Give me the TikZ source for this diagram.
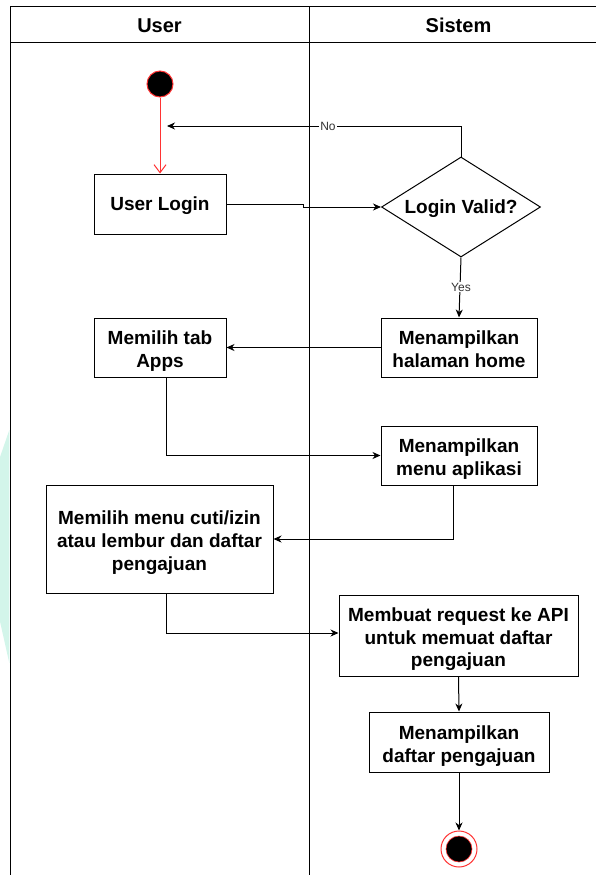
\documentclass[tikz,border=0pt]{standalone}
\usepackage{fontspec}
\setmainfont{Liberation Sans}
\usetikzlibrary{shapes.geometric,arrows.meta}

\definecolor{mint}{HTML}{D3F5EA}
\definecolor{startred}{HTML}{FF3333}

% struts that give every text block the same line boxes
\newcommand{\topstrut}{\rule{0pt}{22pt}}
\newcommand{\diastrut}{\rule{0pt}{18pt}}
\newcommand{\botstrut}{\rule[-4.8pt]{0pt}{4.8pt}}

\tikzset{
  lane/.style={line width=1pt, draw=black},
  lanetitle/.style={font=\fontsize{20}{24}\selectfont\bfseries, inner sep=0pt},
  actbox/.style={draw=black, line width=1pt, fill=white, align=center,
    inner sep=0pt, font=\fontsize{19}{22.8}\selectfont\bfseries},
  decide/.style={diamond, aspect=1.59, draw=black, line width=1pt, fill=white,
    inner sep=0pt, minimum width=159pt, minimum height=100pt,
    font=\fontsize{19}{22.8}\selectfont\bfseries},
  flow/.style={line width=1pt, draw=black,
    -{Stealth[length=8pt, width=7pt, inset=2.5pt]}},
  startflow/.style={line width=1pt, draw=startred,
    -{Straight Barb[length=8pt, width=12pt, line width=1pt]}},
  guard/.style={font=\fontsize{12}{14}\selectfont, text=black!80, fill=white,
    inner sep=1pt},
  initial/.style={circle, draw=startred, line width=1pt, fill=black,
    minimum size=26pt, inner sep=0pt},
}

\begin{document}
\begin{tikzpicture}[x=1pt, y=-1pt]
\useasboundingbox (0,0) rectangle (596,875);

% faint decorative shape at the left margin
\fill[mint] (-1,460) -- (9.3,430) -- (9.3,663) -- (-1,617) -- cycle;

% swimlane frame
\draw[lane] (10,875) -- (10,7) -- (596,7);
\draw[lane] (10,43) -- (596,43);
\draw[lane] (309,7) -- (309,875);
\node[lanetitle] (userlane) at (159.5,25.3) {User};
\node[lanetitle] (sistemlane) at (458.5,25.3) {Sistem};

% activities
\node[initial] (start) at (160,84) {};
\node[actbox, minimum width=132pt, minimum height=60pt] (login) at (160,204) {\diastrut User Login\botstrut};
\node[decide] (valid) at (461,207) {\diastrut Login Valid?\botstrut};
\node[actbox, minimum width=156pt, minimum height=59pt] (home) at (459,347.5) {\topstrut Menampilkan\\halaman home\botstrut};
\node[actbox, minimum width=132pt, minimum height=59pt] (tabapps) at (160,347.5) {\topstrut Memilih tab\\Apps\botstrut};
\node[actbox, minimum width=156pt, minimum height=59pt] (menuapp) at (459,455.5) {\topstrut Menampilkan\\menu aplikasi\botstrut};
\node[actbox, minimum width=227pt, minimum height=108pt] (pilihmenu) at (159.5,539) {\topstrut Memilih menu cuti/izin\\atau lembur dan daftar\\pengajuan\botstrut};
\node[actbox, minimum width=239pt, minimum height=81pt] (request) at (458.5,635.5) {\topstrut Membuat request ke API\\untuk memuat daftar\\pengajuan\botstrut};
\node[actbox, minimum width=180pt, minimum height=60pt] (daftar) at (459,742) {\topstrut Menampilkan\\daftar pengajuan\botstrut};

% final state
\node[circle, draw=startred, line width=1pt, fill=white, minimum size=36pt, inner sep=0pt] (finish) at (459,849) {};
\node[circle, draw=startred, line width=0.6pt, fill=black, minimum size=26pt, inner sep=0pt] (finishdot) at (finish.center) {};

\coordinate (noend) at (167,126);

% connectors
\draw[startflow] (start) -- (login);
\draw[flow] (login.east) -- ++(77,0) |- (valid.west);
\draw[flow] (valid.north) |- (noend);
\node[guard] (nolabel) at (328,126) {No};
\draw[flow] (valid.south) -- (home.north);
\node[guard] (yeslabel) at (461,287) {Yes};
\draw[flow] (home.west) -- (tabapps.east);
\draw[flow] ([xshift=6pt]tabapps.south) |- (menuapp.west);
\draw[flow] ([xshift=-6pt]menuapp.south) |- (pilihmenu.east);
\draw[flow] ([xshift=6.5pt]pilihmenu.south) |- ([yshift=2.5pt]request.west);
\draw[flow] (request.south) -- (daftar.north);
\draw[flow] (daftar.south) -- (finish.north);
\end{tikzpicture}
\end{document}
